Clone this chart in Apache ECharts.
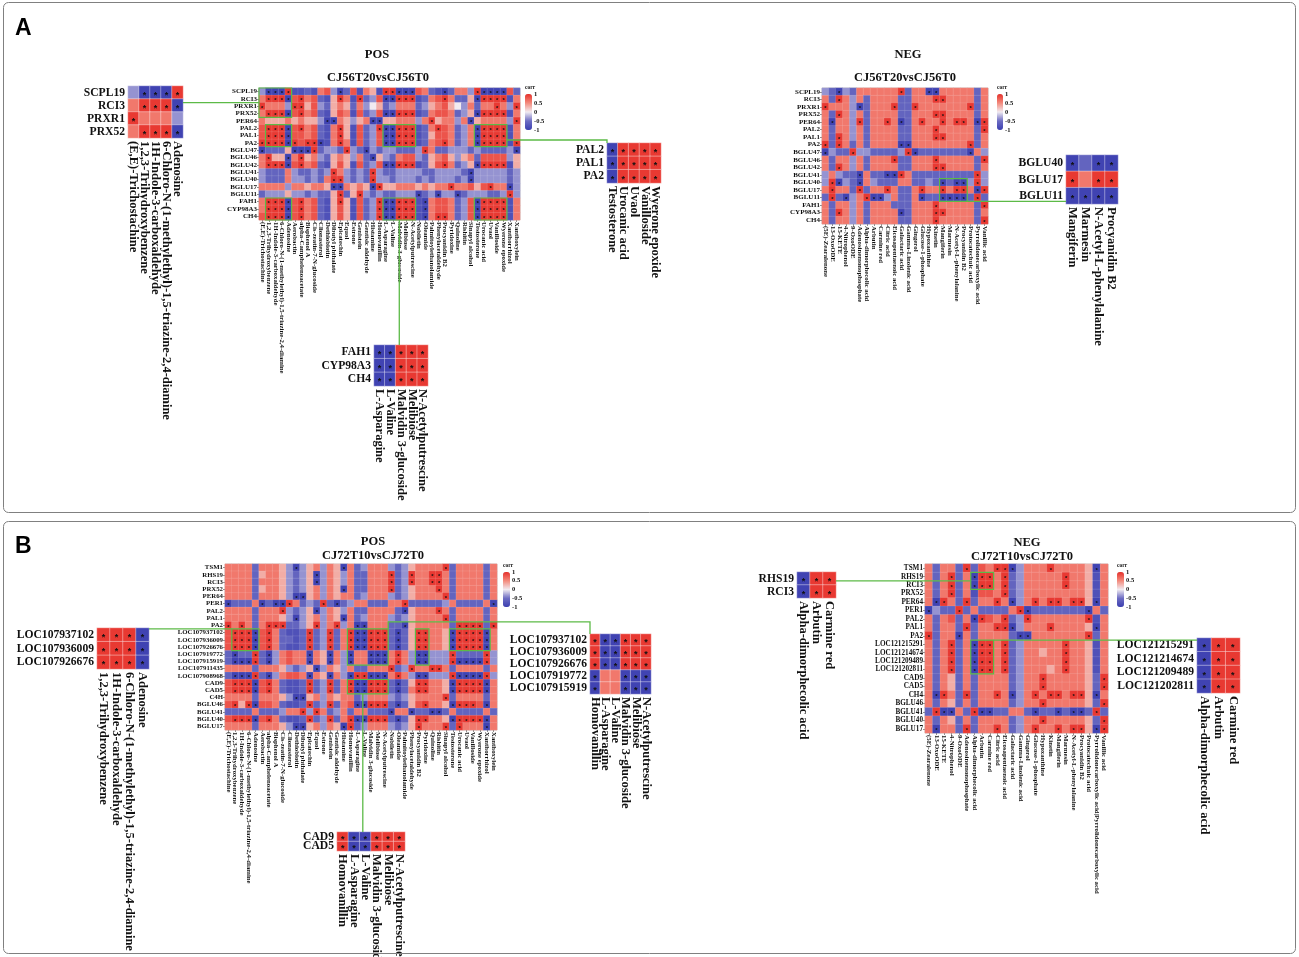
<!DOCTYPE html>
<html><head><meta charset="utf-8">
<script src="https://cdn.jsdelivr.net/npm/echarts/dist/echarts.min.js"></script>
<style>html,body{margin:0;padding:0;background:#fff;}#c{width:1299px;height:957px;}</style>
</head><body><div id="c"></div>
<script>
// ---------------- categories ----------------
const genesA = ['SCPL19','RCI3','PRXR1','PRX52','PER64','PAL2','PAL1','PA2','BGLU47','BGLU46','BGLU42','BGLU41','BGLU40','BGLU17','BGLU11','FAH1','CYP98A3','CH4'];
const genesBPos = ['TSM1','RHS19','RCI3','PRX52','PER64','PER1','PAL2','PAL1','PA2','LOC107937102','LOC107936009','LOC107926676','LOC107919772','LOC107915919','LOC107911435','LOC107908968','CAD9','CAD5','C4H','BGLU46','BGLU41','BGLU40','BGLU17'];
const genesBNeg = ['TSM1','RHS19','RCI3','PRX52','PER64','PER1','PAL2','PAL1','PA2','LOC121215291','LOC121214674','LOC121209489','LOC121202811','CAD9','CAD5','CH4','BGLU46','BGLU41','BGLU40','BGLU17'];
const posMetabolites = ['(E,E)-Trichostachine','1,2,3-Trihydroxybenzene','1H-Indole-3-carboxaldehyde','6-Chloro-N-(1-methylethyl)-1,5-triazine-2,4-diamine','Adenosine','Aerobactin','alpha-Camphelenoacetate','Bisphenol A','Cis-zeatin-7-N-glucoside','Clionasterol','Dethiobiotin','Dibutyl phthalate','Epicatechin','Equol','Estrone','Genistein','Gentisic aldehyde','Histamine','Homovanillin','L-Asparagine','L-Valine','Malvidin 3-glucoside','Melibiose','N-Acetylputrescine','Nobiletin','Oleamide','Palmitoylethanolamide','Phenylacetaldehyde','Procyanidin B2','Pyridoxine','Quinoline','Rishitin','Sinapyl alcohol','Testosterone','Urocanic acid','Uvaol','Vanilloside','Wyerone epoxide','Xanthorrhizol','Xanthoxylein'];
const negMetabolitesA = ['(5E)-Zearalenone','13-OxoODE','15-KETE','4-Nitrophenol','9-OxoODE','Adenosinemonophosphate','Alpha-dimorphecolic acid','Arbutin','Carmine red','Citric acid','Eicosapentaenoic acid','Galactaric acid','Gamma-Linolenic acid','Gingerol','Glucose-1-phosphate','Hypoxanthine','Kinetin','Mangiferin','Marmesin','N-Acetyl-L-phenylalanine','Procyanidin B2','Protocatechuic acid','Pyrrolidonecarboxylic acid','Vanillic acid'];
const negMetabolitesB = ['(5E)-Zearalenone','13-OxoODE','15-KETE','4-Nitrophenol','9-OxoODE','Adenosinemonophosphate','Alpha-dimorphecolic acid','Arbutin','Carmine red','Citric acid','Eicosapentaenoic acid','Galactaric acid','Gamma-Linolenic acid','Gingerol','Glucose-1-phosphate','Hypoxanthine','Kinetin','Mangiferin','Marmesin','N-Acetyl-L-phenylalanine','Procyanidin B2','Protocatechuic acid','Pyrrolidonecarboxylic acid|Pyrrolidonecarboxylic acid','Vanillic acid'];
const legendTicks = [-1, -0.5, 0, 0.5, 1];

// ---------------- correlation values (coarse levels) ----------------
// X: r~0.95 (significant *), R: 0.8, r: 0.6, p: 0.32, w: 0, l: -0.35, b: -0.6, B: -0.8, Y: -0.95 (significant *)
const corrLevel = {X:0.95, R:0.8, r:0.6, p:0.32, w:0, l:-0.35, b:-0.6, B:-0.8, Y:-0.95};
const corrAPos = [
 'lYYYX BBbBr RlYbR BrpBX XYYYR rbBYb rrlXY YYYRb',
 'rXXXY RXrRb BpXrB XblRY YXXXB brRXr bbpYX XXXBr',
 'Xrrrl XXpRl bprpb rlwpb lrrrb lprRp wlrbr rXrlX',
 'rXXXY RXrRb BpRrB RblRY YXXXB brRRr blpYX XXXBr',
 'rpppr prppl YYrpl prYYp prrrl rXprr lrYpr rrrlX',
 'RXXXY RXrRb BrXpB RblXY YXXXB brXRr blrYX XXXBr',
 'RXXXY RRrRb BrXpB RblRY YXXXB bpRRr blrYX XXXBr',
 'XXXXY XRXXY BrXrB RblRY YXXXB brRXr blrYX XXXBX',
 'Ybbbp YYYXb llbXl bYlbl lbbbl Xrbbl llblb bbblY',
 'rXppY rXprl bprpl rbYpl brRRl bprRp lprbR RRRlp',
 'rXXXY RXrRb BpRpB RblRY YXXXB bpRXr blpYX XXXBp',
 'lbbbr lbblb lXrlb lbXlb bllll bblll lbYll lllbl',
 'lbbbr llblb rXXlb lbXll blllb lblll blYll lllbl',
 'rrrrl rrprr pYYrp rpYXp prrrp rprrX rrRpR XrrYl',
 'blllp llblb bpXbp Xlblb blllY blYll Yblll bblXl',
 'rXXXY RXrRb BpXpB RblXY YXXXB YrRRr blRYX XXXBr',
 'rXXXY RXrRb BpRpB RblXY YXXXB YrRRr blRYX XXXBr',
 'RXXXY RXrRb BpRpB RblXY YXXXB YrXXr blRYX XXXBr'
];
const corrANeg = [
 'lbYlbr rrrrrX brrYYr rrrrbr',
 'rbXrlr brrrrb brrrXX rrrrbr',
 'XrrrlY brrrXb bXrrrr rrrXbr',
 'rbXrlr brrrrb brrrXX rrrrbr',
 'rYrrlX brrXrY brXrrX rXXrYX',
 'rbrrlr brrrrb brrrXr rrrrbX',
 'rbXrlr brrrrb brrrXX rrrrbr',
 'XbXrbr brrrrY Yrrrrr rrrXbr',
 'YlbbXl lbbbbl XYbbbb bbbYrl',
 'rbrrlr brrrXb brrrXr rrrrbX',
 'rbXrlr brrrrb brrrXX rrrrbr',
 'lrlbbY rbbYYX rbbbbb bbbbXl',
 'lXYlbY rlbbbr rbblbY bYYlXl',
 'rXrrbX brrXrb brXrrX rXXrYX',
 'bXbYlr XYYlrb brYbbY YYYbXb',
 'rbrrlr brrrbb brrrXr rrrrbX',
 'rbXrlr brrrrY brrrXX rrrrbr',
 'rbrrlr brrrrb brrrXr rrrrbX'
];
const corrBPos = [
 'rrrrb rrrpl Ylprl rpYrb lrrrl blprr rrXbr rrrbr',
 'rrrrb prrpl blpYl rplrb brrrX blXrr XXrbr rrrbr',
 'rrrrb rrrpl blpYl rplrb brrrX blXrr XXrbr rrrbr',
 'rrrrb prrpl blprl rpYrb brrrX blprr rXrbr rrrbr',
 'rrrrb rrrpl YYprl rprrb lrrrl blprr rrXbr rrrbr',
 'Ybbbr YbYYX rblbX bYblr rbbbr rXbbb bblrb bbbrY',
 'rrrrb rrrXl blpYl rplrb brrrr bYprr rXrbr rrrbr',
 'rrrrb rrrpl Ylprl rpYrb lrrrl blprr rrXbr rrrbr',
 'XrXrb rXXXb blpXl rXlrY Yrrrb bYprr rrrbX XXXbX',
 'RXXXY RXrbB BbXbl XbrXY YXXXb YbpXX rrpYX XXXYr',
 'RXXXY RXrbb BbXbl XbrXY YXXXb YbpXX rrpYX XXXYr',
 'RXXXY RXrbB BbXbl XbrXY YXXXb YbpXX rrpYX XXXYr',
 'bYbbX bYlrR rrYrp YrlYr rYYYr XrlYY lllXb bbbXl',
 'bYYYX bYlrR rrYrp YrlYr rYYYr XrlYY lllXY YYYXl',
 'rrrrb rrrpl blpYl rplrb brrrX blXrr XXrbr rrrbr',
 'bYYYX bYlrR RrYrp YrlYX XYYYr XrlYY lllXY YYYXl',
 'RXXXY RXrbB BbXbl XbrXY YXXXb YbpXX rrpYX XXXYr',
 'RXXXY RXrbB BbXbl XbrXY YXXXb YbrXX rrpYX XXXYr',
 'rrrrb rrrpl YYprl rprrb lrrrl blprr rrXbr rrrbr',
 'RXpXY RRrbB BbXbl XbrRY YXXXb YbpRX rrpYX XXRYr',
 'bbbbr bbblr rXlXr blrbr rbbbY rrYbb YYbrb bbbrb',
 'RXXXY RXrbB BbXbl XbrXY YXXXb YbpXX rrpYX XXXYr',
 'rrrrb rrrpl YYprl rpYXb lrrrl blpXr rrXbX rrrYr'
];
const corrBNeg = [
 'rbrrbX bRrXXY lrrrXr rrrpYr',
 'rbrXbr YXXrXb lrrrrr XrrpBr',
 'rbrXbr YXXrXb lrrrrr XrrpBr',
 'rbrXbr BRRrXb lrrrrr rrrpBr',
 'rYXrbX brrXrY lrXrXX rXXpYr',
 'YlbbXb rbbbbr XYbbbb bbbYrb',
 'rbrRbr YXRrXb lXrrrr rrrXBr',
 'rbrrbX brrXXY lrrrXr rrrpYr',
 'XbrrYr brrrrb YYrrrr rrrXbr',
 'rbrXbr YXXrXb lrrrrr XrrpBr',
 'rbrXbr YXXrXb lrrprr XrrpBr',
 'rbrXbr YXXrXb lrrrrr XrrpBr',
 'rbrXbr YXXrXb lrrrpr XrrpBr',
 'rbrpbr brrrrb lrrXrr rrrpbX',
 'rbrpbr brrrrb lrrXrr rrrpbX',
 'rYXrbX brrXrY lrXrXX rXXpYr',
 'rbrpbr brrrrb lrrXrr rrrpbX',
 'bXYYrb XYYbbr rbYbbY bYYbXb',
 'rbrpbr brrrrb lrrXrr rrrpbX',
 'rYrrbX brrXrb lrXrrX rXXpYX'
];

// ---------------- zoomed sub-heatmaps (row / column picks) ----------------
const zoomA1Rows = ['SCPL19','RCI3','PRXR1','PRX52'];
const zoomA1Cols = ['(E,E)-Trichostachine','1,2,3-Trihydroxybenzene','1H-Indole-3-carboxaldehyde','6-Chloro-N-(1-methylethyl)-1,5-triazine-2,4-diamine','Adenosine'];
const zoomA2Rows = ['PAL2','PAL1','PA2'];
const zoomA2Cols = ['Testosterone','Urocanic acid','Uvaol','Vanilloside','Wyerone epoxide'];
const zoomA3Rows = ['FAH1','CYP98A3','CH4'];
const zoomA3Cols = ['L-Asparagine','L-Valine','Malvidin 3-glucoside','Melibiose','N-Acetylputrescine'];
const zoomA4Rows = ['BGLU40','BGLU17','BGLU11'];
const zoomA4Cols = ['Mangiferin','Marmesin','N-Acetyl-L-phenylalanine','Procyanidin B2'];
const zoomB1Rows = ['LOC107937102','LOC107936009','LOC107926676'];
const zoomB1Cols = ['1,2,3-Trihydroxybenzene','1H-Indole-3-carboxaldehyde','6-Chloro-N-(1-methylethyl)-1,5-triazine-2,4-diamine','Adenosine'];
const zoomB2Rows = ['LOC107937102','LOC107936009','LOC107926676','LOC107919772','LOC107915919'];
const zoomB2Cols = ['Homovanillin','L-Asparagine','L-Valine','Malvidin 3-glucoside','Melibiose','N-Acetylputrescine'];
const zoomB3Rows = ['CAD9','CAD5'];
const zoomB3Cols = ['Homovanillin','L-Asparagine','L-Valine','Malvidin 3-glucoside','Melibiose','N-Acetylputrescine'];
const zoomB4Rows = ['RHS19','RCI3'];
const zoomB4Cols = ['Alpha-dimorphecolic acid','Arbutin','Carmine red'];
const zoomB5Rows = ['LOC121215291','LOC121214674','LOC121209489','LOC121202811'];
const zoomB5Cols = ['Alpha-dimorphecolic acid','Arbutin','Carmine red'];

// ---------------- build ----------------
const FONT = '"Liberation Serif","Times New Roman",serif';
const SANS = '"Liberation Sans",Arial,sans-serif';
const COLORS = ['#3b3eb0','#6d6dc3','#f1ebf1','#f38a7c','#e7302a'];
const GREEN = '#5cba47';

function matrix(rows){ return rows.map(s => s.replace(/\s+/g,'').split('').map(ch => corrLevel[ch])); }
const mAPos = matrix(corrAPos), mANeg = matrix(corrANeg), mBPos = matrix(corrBPos), mBNeg = matrix(corrBNeg);

function heatData(m){ const d=[]; m.forEach((row,r)=>row.forEach((v,c)=>d.push([c,r,v]))); return d; }
function pickData(m, rowNames, colNames, selRows, selCols){
  const d=[];
  selRows.forEach((rn,i)=>{ const ri=rowNames.indexOf(rn);
    selCols.forEach((cn,j)=>{ const ci=colNames.indexOf(cn); d.push([j,i,m[ri][ci]]); }); });
  return d;
}

const panels = [
  // main heatmaps (grid 0-3)
  {grid:{left:259,top:88,width:261,height:132}, xs:posMetabolites, ys:genesA, data:heatData(mAPos), main:true, fs:6.8, yfs:7},
  {grid:{left:822,top:88,width:166,height:136}, xs:negMetabolitesA, ys:genesA, data:heatData(mANeg), main:true, fs:6.8, yfs:7},
  {grid:{left:225,top:564,width:272,height:166}, xs:posMetabolites, ys:genesBPos, data:heatData(mBPos), main:true, fs:6.8, yfs:6.8},
  {grid:{left:925,top:564,width:183,height:169}, xs:negMetabolitesB, ys:genesBNeg, data:heatData(mBNeg), main:true, fs:6.8, yfs:7.2},
  // zoomed heatmaps (grid 4-12)
  {grid:{left:128,top:86,width:55,height:52}, xs:zoomA1Cols, ys:zoomA1Rows, data:pickData(mAPos,genesA,posMetabolites,zoomA1Rows,zoomA1Cols)},
  {grid:{left:607,top:143,width:54,height:40}, xs:zoomA2Cols, ys:zoomA2Rows, data:pickData(mAPos,genesA,posMetabolites,zoomA2Rows,zoomA2Cols)},
  {grid:{left:374,top:345,width:54,height:41}, xs:zoomA3Cols, ys:zoomA3Rows, data:pickData(mAPos,genesA,posMetabolites,zoomA3Rows,zoomA3Cols)},
  {grid:{left:1066,top:155,width:52,height:49}, xs:zoomA4Cols, ys:zoomA4Rows, data:pickData(mANeg,genesA,negMetabolitesA,zoomA4Rows,zoomA4Cols)},
  {grid:{left:97,top:628,width:52,height:41}, xs:zoomB1Cols, ys:zoomB1Rows, data:pickData(mBPos,genesBPos,posMetabolites,zoomB1Rows,zoomB1Cols)},
  {grid:{left:590,top:634,width:61,height:60}, xs:zoomB2Cols, ys:zoomB2Rows, data:pickData(mBPos,genesBPos,posMetabolites,zoomB2Rows,zoomB2Cols)},
  {grid:{left:337,top:832,width:68,height:19}, xs:zoomB3Cols, ys:zoomB3Rows, data:pickData(mBPos,genesBPos,posMetabolites,zoomB3Rows,zoomB3Cols)},
  {grid:{left:797,top:572,width:39,height:26}, xs:zoomB4Cols, ys:zoomB4Rows, data:pickData(mBNeg,genesBNeg,negMetabolitesB,zoomB4Rows,zoomB4Cols)},
  {grid:{left:1197,top:638,width:43,height:55}, xs:zoomB5Cols, ys:zoomB5Rows, data:pickData(mBNeg,genesBNeg,negMetabolitesB,zoomB5Rows,zoomB5Cols)}
];
const legends = [
  {left:525,top:94,w:7,h:36,series:[0,4,5,6]},
  {left:997,top:94,w:6,h:36,series:[1,7]},
  {left:503,top:572,w:7,h:35,series:[2,8,9,10]},
  {left:1117,top:572,w:7,h:35,series:[3,11,12]}
];

const grids=[], xAxes=[], yAxes=[], series=[], visualMaps=[];
panels.forEach((p,g)=>{
  const main = !!p.main;
  grids.push(Object.assign({outerBoundsMode:'none', containLabel:false, show:main, borderColor:'#c4c4c4', borderWidth:1, backgroundColor:'transparent'}, p.grid));
  const lab = {interval:0, fontSize: main?p.fs:12.5, fontWeight:'bold', fontFamily:FONT, color:'#111', margin: main?2:3};
  xAxes.push({type:'category', gridIndex:g, data:p.xs, position:'bottom', axisLine:{show:false},
    axisTick:{show:main, length:2, alignWithLabel:true, lineStyle:{color:'#444', width:0.6}},
    axisLabel:Object.assign({rotate:-90}, lab), splitLine:{show:false}});
  yAxes.push({type:'category', gridIndex:g, data:p.ys, inverse:true, axisLine:{show:false},
    axisTick:{show:main, length:2, alignWithLabel:true, lineStyle:{color:'#444', width:0.6}},
    axisLabel:Object.assign({}, lab, {fontSize: main?p.yfs:11.6}), splitLine:{show:false}});
  const fs = main?6:9;
  series.push({type:'heatmap', xAxisIndex:g, yAxisIndex:g, data:p.data,
    itemStyle:{borderColor: main?'rgba(255,255,255,0.28)':'rgba(255,255,255,0.55)', borderWidth: main?0.4:0.7},
    label:{show:true, fontSize:fs, color:'#111', fontWeight:'bold', offset:[0, fs*0.3],
      formatter: q => Math.abs(q.value[2])>=0.9 ? '*' : ''},
    emphasis:{disabled:true}});
});
legends.forEach((L,i)=>{
  const g = panels.length + i;
  grids.push({outerBoundsMode:'none', containLabel:false, left:L.left, top:L.top, width:L.w, height:L.h, show:false});
  xAxes.push({type:'value', gridIndex:g, show:false, min:0, max:1});
  yAxes.push({type:'value', gridIndex:g, min:legendTicks[0], max:legendTicks[legendTicks.length-1], interval:0.5, position:'right',
    axisLine:{show:false}, axisTick:{show:false}, splitLine:{show:false},
    axisLabel:{fontSize:6.5, margin:2, color:'#111', fontFamily:FONT, fontWeight:'bold'}});
  series.push({type:'scatter', xAxisIndex:g, yAxisIndex:g, data:[], silent:true});
  visualMaps.push({type:'continuous', min:-1, max:1, seriesIndex:L.series, left:L.left, top:L.top,
    itemWidth:L.w, itemHeight:L.h, padding:0, calculable:false, hoverLink:false, orient:'vertical',
    inRange:{color:COLORS}});
});

const chart = echarts.init(document.getElementById('c'), null, {width:1299, height:957});
chart.setOption({animation:false, backgroundColor:'#fff', grid:grids, xAxis:xAxes, yAxis:yAxes, visualMap:visualMaps, series:series});

// ---------------- overlays (positions taken from the axes) ----------------
function cellBox(g, c0, c1, r0, r1){
  const p00 = chart.convertToPixel({gridIndex:g},[0,0]);
  const p11 = chart.convertToPixel({gridIndex:g},[1,1]);
  const dx = Math.abs(p11[0]-p00[0]), dy = Math.abs(p11[1]-p00[1]);
  const a = chart.convertToPixel({gridIndex:g},[c0,r0]);
  const b = chart.convertToPixel({gridIndex:g},[c1,r1]);
  return {x0:Math.min(a[0],b[0])-dx/2, x1:Math.max(a[0],b[0])+dx/2, y0:Math.min(a[1],b[1])-dy/2, y1:Math.max(a[1],b[1])+dy/2};
}
function whole(g){ const p=panels[g]; return cellBox(g,0,p.xs.length-1,0,p.ys.length-1); }

const boxes = [
  [0,0,4,0,3],[0,1,4,5,7],[0,1,4,15,17],[0,19,23,5,7],[0,19,23,15,17],[0,33,37,5,7],[0,33,37,15,17],
  [1,17,20,12,14],
  [2,1,4,9,11],[2,18,23,9,13],[2,18,23,16,17],[2,28,29,9,13],[2,33,38,9,11],
  [3,6,8,1,2],[3,6,8,9,12]
].map(b=>cellBox(b[0],b[1],b[2],b[3],b[4]));

const G = [];
G.push({type:'rect', shape:{x:3.5,y:2.5,width:1292,height:510,r:5}, style:{fill:'none', stroke:'#808080', lineWidth:1}, z:1});
G.push({type:'rect', shape:{x:3.5,y:521.5,width:1292,height:432,r:5}, style:{fill:'none', stroke:'#808080', lineWidth:1}, z:1});
G.push({type:'text', x:15, y:17, style:{text:'A', font:'bold 23px '+SANS, fill:'#000'}, z:5});
G.push({type:'text', x:15, y:535, style:{text:'B', font:'bold 23px '+SANS, fill:'#000'}, z:5});
const titles = [['POS',377,55],['CJ56T20vsCJ56T0',378,78],['NEG',908,55],['CJ56T20vsCJ56T0',905,78],
                ['POS',373,542],['CJ72T10vsCJ72T0',373,556],['NEG',1027,543],['CJ72T10vsCJ72T0',1022,557]];
titles.forEach(t=>G.push({type:'text', x:t[1], y:t[2], style:{text:t[0], font:'bold 12.5px '+FONT, fill:'#111', align:'center', verticalAlign:'middle'}, z:5}));
legends.forEach(L=>G.push({type:'text', x:L.left, y:L.top-6, style:{text:'corr', font:'bold 5.5px '+FONT, fill:'#111', verticalAlign:'middle'}, z:5}));
boxes.forEach(b=>G.push({type:'rect', shape:{x:b.x0,y:b.y0,width:b.x1-b.x0,height:b.y1-b.y0}, style:{fill:'none', stroke:GREEN, lineWidth:1.2}, z:60}));
function line(pts){ G.push({type:'polyline', shape:{points:pts}, style:{stroke:GREEN, lineWidth:1.3, fill:'none'}, z:60}); }
const s1=whole(4), s2=whole(5), s3=whole(6), s4=whole(7), s5=whole(8), s6=whole(9), s7=whole(10), s8=whole(11), s9=whole(12);
let b;
b=boxes[0]; line([[s1.x1,(b.y0+b.y1)/2],[b.x0,(b.y0+b.y1)/2]]);
b=boxes[5]; line([[b.x1,s2.y0-3],[s2.x0,s2.y0-3],[s2.x0,s2.y0]]);
b=boxes[4]; line([[(b.x0+b.x1)/2,b.y1],[(b.x0+b.x1)/2,s3.y0]]);
b=boxes[7]; line([[b.x1,b.y1],[s4.x0,b.y1]]);
b=boxes[8]; line([[s5.x1,b.y0],[b.x0,b.y0]]);
b=boxes[9]; line([[b.x1,b.y0],[b.x1,b.y0-7],[s6.x0,b.y0-7],[s6.x0,s6.y0]]);
b=boxes[10]; line([[(b.x0+b.x1)/2-5,b.y1],[(b.x0+b.x1)/2-5,s7.y0]]);
b=boxes[13]; line([[s8.x1,(b.y0+b.y1)/2],[b.x0,(b.y0+b.y1)/2]]);
b=boxes[14]; line([[b.x1,b.y0],[s9.x0,b.y0]]);

chart.setOption({graphic:G});
</script>
</body></html>
